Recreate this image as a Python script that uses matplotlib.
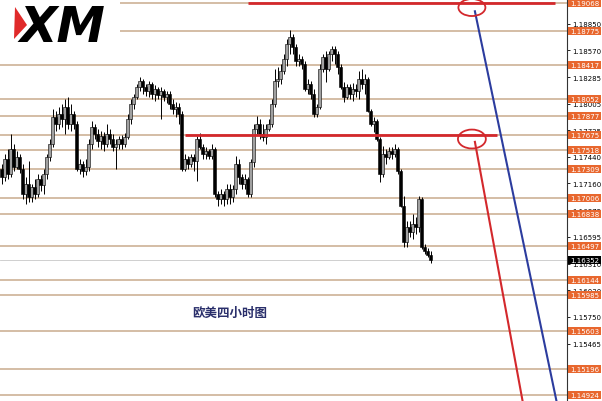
import numpy as np
import matplotlib.pyplot as plt
from matplotlib.patches import Ellipse, Rectangle, Polygon

# EURUSD 4H candles (price)
first_open = 1.1731
closes = [1.1723, 1.1742, 1.1726, 1.1752, 1.1733, 1.1744, 1.1731, 1.1705, 1.1715, 1.1702,
          1.1712, 1.1705, 1.1721, 1.1714, 1.1726, 1.1744, 1.1758, 1.1786, 1.1779, 1.1789,
          1.1784, 1.1797, 1.1779, 1.1789, 1.1779, 1.1731, 1.1737, 1.1729, 1.1733, 1.1758,
          1.1776, 1.1768, 1.1761, 1.1766, 1.1758, 1.1768, 1.1763, 1.1755, 1.1758, 1.1763,
          1.1758, 1.1765, 1.1784, 1.1800, 1.1807, 1.1818, 1.1824, 1.1818, 1.1814, 1.1821,
          1.1811, 1.1816, 1.1810, 1.1814, 1.1807, 1.1811, 1.1800, 1.1795, 1.1797, 1.1789,
          1.1731, 1.1742, 1.1737, 1.1744, 1.1740, 1.1763, 1.1755, 1.1747, 1.1750, 1.1745,
          1.1752, 1.1705, 1.1700, 1.1705, 1.1700, 1.1710, 1.1702, 1.1710, 1.1737, 1.1723,
          1.1715, 1.1721, 1.1705, 1.1739, 1.1774, 1.1779, 1.1768, 1.1765, 1.1774, 1.1779,
          1.1800, 1.1824, 1.1826, 1.1835, 1.1848, 1.1863, 1.1871, 1.1860, 1.1845, 1.1848,
          1.1842, 1.1816, 1.1821, 1.1811, 1.1789, 1.1797, 1.1837, 1.1850, 1.1837, 1.1853,
          1.1858, 1.1853, 1.1839, 1.1818, 1.1807, 1.1818, 1.1811, 1.1816, 1.1814, 1.1826,
          1.1821, 1.1826, 1.1793, 1.1779, 1.1782, 1.1763, 1.1726, 1.1747, 1.1744, 1.1750,
          1.1747, 1.1752, 1.1729, 1.1692, 1.1654, 1.1670, 1.1665, 1.1673, 1.1670, 1.1700,
          1.1649, 1.1645, 1.1640, 1.1635]
highs = [1.1737, 1.1747, 1.1752, 1.1768, 1.1758, 1.1750, 1.1747, 1.1737, 1.1723, 1.1740,
         1.1715, 1.1721, 1.1726, 1.1725, 1.1731, 1.1747, 1.1763, 1.1795, 1.1793, 1.1797,
         1.1800, 1.1805, 1.1807, 1.1800, 1.1793, 1.1782, 1.1742, 1.1740, 1.1742, 1.1763,
         1.1782, 1.1779, 1.1774, 1.1771, 1.1770, 1.1779, 1.1774, 1.1768, 1.1763, 1.1766,
         1.1767, 1.1769, 1.1789, 1.1805, 1.1811, 1.1821, 1.1829, 1.1826, 1.1821, 1.1824,
         1.1823, 1.1820, 1.1818, 1.1818, 1.1816, 1.1814, 1.1814, 1.1805, 1.1802, 1.1801,
         1.1793, 1.1747, 1.1745, 1.1747, 1.1747, 1.1766, 1.1769, 1.1758, 1.1755, 1.1752,
         1.1758, 1.1755, 1.1708, 1.1710, 1.1708, 1.1715, 1.1715, 1.1714, 1.1745, 1.1742,
         1.1726, 1.1726, 1.1723, 1.1742, 1.1779, 1.1787, 1.1784, 1.1779, 1.1779, 1.1784,
         1.1805, 1.1837, 1.1839, 1.1842, 1.1853, 1.1869, 1.1878, 1.1874, 1.1863, 1.1853,
         1.1851, 1.1845, 1.1826, 1.1824, 1.1816, 1.1800, 1.1842, 1.1853, 1.1856, 1.1856,
         1.1861, 1.1861, 1.1856, 1.1842, 1.1823, 1.1821, 1.1821, 1.1822, 1.1821, 1.1835,
         1.1837, 1.1832, 1.1829, 1.1795, 1.1786, 1.1784, 1.1765, 1.1756, 1.1752, 1.1755,
         1.1755, 1.1758, 1.1755, 1.1731, 1.1703, 1.1676, 1.1676, 1.1684, 1.1681, 1.1703,
         1.1702, 1.1652, 1.1648, 1.1645]
lows = [1.1715, 1.1719, 1.1721, 1.1723, 1.1729, 1.1731, 1.1727, 1.1700, 1.1694, 1.1696,
        1.1696, 1.1700, 1.1702, 1.1708, 1.1705, 1.1721, 1.1740, 1.1755, 1.1771, 1.1774,
        1.1776, 1.1768, 1.1774, 1.1771, 1.1774, 1.1729, 1.1726, 1.1723, 1.1725, 1.1729,
        1.1752, 1.1763, 1.1755, 1.1752, 1.1750, 1.1755, 1.1758, 1.1750, 1.1731, 1.1752,
        1.1752, 1.1755, 1.1763, 1.1779, 1.1795, 1.1805, 1.1814, 1.1811, 1.1808, 1.1807,
        1.1805, 1.1803, 1.1805, 1.1784, 1.1803, 1.1801, 1.1795, 1.1789, 1.1786, 1.1779,
        1.1729, 1.1729, 1.1731, 1.1733, 1.1729, 1.1719, 1.1752, 1.1742, 1.1742, 1.1742,
        1.1742, 1.1702, 1.1692, 1.1694, 1.1692, 1.1694, 1.1694, 1.1696, 1.1705, 1.1715,
        1.1710, 1.1710, 1.1702, 1.1702, 1.1733, 1.1768, 1.1763, 1.1761, 1.1758, 1.1771,
        1.1776, 1.1797, 1.1818, 1.1821, 1.1832, 1.1840, 1.1853, 1.1853, 1.1840, 1.1840,
        1.1837, 1.1814, 1.1811, 1.1805, 1.1786, 1.1786, 1.1795, 1.1834, 1.1823, 1.1835,
        1.1845, 1.1842, 1.1832, 1.1816, 1.1802, 1.1805, 1.1805, 1.1803, 1.1807, 1.1805,
        1.1816, 1.1811, 1.1792, 1.1777, 1.1770, 1.1761, 1.1718, 1.1723, 1.1737, 1.1742,
        1.1742, 1.1744, 1.1726, 1.1691, 1.1649, 1.1649, 1.1659, 1.1657, 1.1663, 1.1665,
        1.1647, 1.1641, 1.1638, 1.1632]

# horizontal levels (orange labels on the price axis)
levels = [1.19068, 1.18775, 1.18417, 1.18052, 1.17877, 1.17675, 1.17518, 1.17309,
          1.17006, 1.16838, 1.16497, 1.16144, 1.15985, 1.15603, 1.15196, 1.14924]
last_price = 1.16352
axis_ticks = [1.18850, 1.18570, 1.18285, 1.18005, 1.17725, 1.17440, 1.17160, 1.16875,
              1.16595, 1.16310, 1.16030, 1.15750, 1.15465]
resist_top = 1.19068
resist_mid = 1.17675
title = '欧美四小时图'

tan = '#c9ab8d'
red = '#d3282c'
blue = '#2c3c9e'
orange = '#e8672e'

fig = plt.figure(figsize=(6.02, 4.02), dpi=100)
ax = fig.add_axes([0, 0, 567 / 602, 1])
ax.set_xlim(-0.5, 188.5)
ax.set_ylim(1.14861, 1.19110)

# level lines
ax.hlines(levels[:2], 39.5, 188.5, color=tan, lw=1.1, zorder=1)
ax.hlines(levels[2:], -0.5, 188.5, color=tan, lw=1.1, zorder=1)
ax.axhline(last_price, color='#c8c8c8', lw=0.6, zorder=1)

# candles
opens = [first_open] + closes[:-1]
x = np.arange(len(closes))
o = np.array(opens); c = np.array(closes)
h = np.maximum(np.array(highs), np.maximum(o, c))
l = np.minimum(np.array(lows), np.minimum(o, c))
ax.vlines(x, l, h, color='black', lw=0.7, zorder=3)
up = c >= o
ax.bar(x[up], (c - o)[up], bottom=o[up], width=0.75, color='#a0a0a0',
       edgecolor='black', lw=0.4, zorder=4)
ax.bar(x[~up], (o - c)[~up], bottom=c[~up], width=0.75, color='black',
       edgecolor='black', lw=0.4, zorder=4)

# red resistance lines, circles, projected lines
ax.hlines(resist_top, 82.2, 184.5, color=red, lw=2.0, zorder=5)
ax.hlines(resist_mid, 61.2, 165.2, color=red, lw=2.0, zorder=5)
ax.add_patch(Ellipse((156.8, 1.1902), 9.0, 0.0018, fill=False, ec=red, lw=1.3, zorder=6))
ax.add_patch(Ellipse((156.8, 1.1763), 9.3, 0.0020, fill=False, ec=red, lw=1.3, zorder=6))
ax.plot([157.8, 185.0], [1.1898, 1.1486], color=blue, lw=1.5, zorder=5)
ax.plot([157.8, 173.7], [1.1760, 1.1486], color=red, lw=1.5, zorder=5)

# price axis
for s in ['top', 'left', 'bottom']:
    ax.spines[s].set_visible(False)
ax.spines['right'].set_color('#333333')
ax.spines['right'].set_linewidth(0.8)
ax.set_xticks([])
ax.yaxis.tick_right()
ax.set_yticks(axis_ticks)
ax.set_yticklabels([f'{v:.5f}' for v in axis_ticks])
ax.tick_params(axis='y', length=2, width=0.6, pad=1.5, labelsize=5, colors='black')

tr = ax.get_yaxis_transform()
bh = 0.00085
for lv in levels:
    ax.add_patch(Rectangle((1.002, lv - bh / 2), 0.058, bh, transform=tr, fc=orange,
                           ec='none', clip_on=False, zorder=8))
    ax.text(1.006, lv, f'{lv:.5f}', transform=tr, color='white', fontsize=5,
            va='center', ha='left', clip_on=False, zorder=9)
ax.add_patch(Rectangle((1.002, last_price - bh / 2), 0.058, bh, transform=tr, fc='black',
                       ec='none', clip_on=False, zorder=8))
ax.text(1.006, last_price, f'{last_price:.5f}', transform=tr, color='white', fontsize=5,
        va='center', ha='left', clip_on=False, zorder=9)

ax.text(230 / 567, 1 - 313 / 402, title, transform=ax.transAxes, ha='center', va='center',
        fontsize=9, color='#2a2f6b', weight='bold', family=['Noto Sans CJK SC', 'DejaVu Sans'])

# XM logo
fig.text(19 / 602, 1 - 42 / 402, 'XM', fontsize=35, weight='black', style='italic',
         family='DejaVu Sans', color='black', va='baseline', ha='left')
tri = np.array([[15, 8], [27, 26], [14, 40]], dtype=float)
tri[:, 0] /= 602
tri[:, 1] = 1 - tri[:, 1] / 402
fig.add_artist(Polygon(tri, closed=True, fc='#e02a2a', ec='none', transform=fig.transFigure))

fig.savefig('out.png', dpi=100, facecolor='white')
